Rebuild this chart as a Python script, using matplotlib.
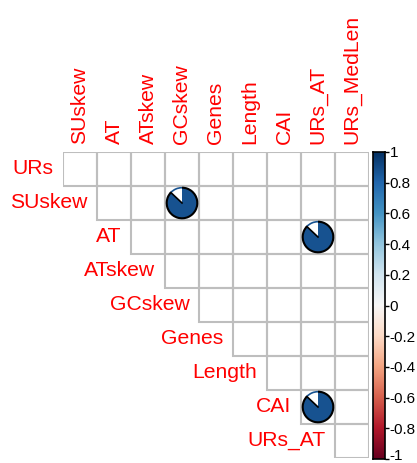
import numpy as np
import matplotlib
matplotlib.use("Agg")
import matplotlib.pyplot as plt
import matplotlib.transforms as mtransforms
from matplotlib.patches import Rectangle, Wedge, Arc

plt.rcParams['font.family'] = ['Liberation Sans', 'DejaVu Sans']

# rows and columns of the (upper-triangle) correlation plot
row_labels = ["URs", "SUskew", "AT", "ATskew", "GCskew", "Genes", "Length", "CAI", "URs_AT"]
col_labels = ["SUskew", "AT", "ATskew", "GCskew", "Genes", "Length", "CAI", "URs_AT", "URs_MedLen"]

# only the significant correlations are drawn (row, column, r)
pie_rows = ["SUskew", "AT", "CAI"]
pie_cols = ["GCskew", "URs_AT", "URs_AT"]
pie_vals = [0.87, 0.87, 0.87]

cbar_ticks = [-1, -0.8, -0.6, -0.4, -0.2, 0, 0.2, 0.4, 0.6, 0.8, 1]

W, H = 417, 463
fig = plt.figure(figsize=(W / 100, H / 100), dpi=100)
ax = fig.add_axes([63 / W, 5 / H, 306 / W, 306 / H])
n = len(col_labels)
ax.set_xlim(0, n)
ax.set_ylim(0, n)
ax.axis('off')

cmap = plt.get_cmap('RdBu')
grid_col = '#BEBEBE'

# cells
for i in range(len(row_labels)):
    y = n - i - 1
    for j in range(i, n):
        ax.add_patch(Rectangle((j, y), 1, 1, fill=False, edgecolor=grid_col,
                               lw=1.5, zorder=1))
    ax.annotate(row_labels[i], xy=(i, y + 0.5), xytext=(-7, 0),
                textcoords='offset points', ha='right', va='center',
                color='red', fontsize=15.2)

for j, lab in enumerate(col_labels):
    ax.annotate(lab, xy=(j + 0.5, n), xytext=(0, 5.5),
                textcoords='offset points', ha='center', va='bottom',
                rotation=90, color='red', fontsize=15.2, annotation_clip=False)

# pies
r = 0.45
for rl, cl, v in zip(pie_rows, pie_cols, pie_vals):
    i = row_labels.index(rl)
    j = col_labels.index(cl)
    cx, cy = j + 0.5, n - i - 0.5
    color = cmap((v + 1) / 2)
    start = 90 - 360 * v
    ax.add_patch(Wedge((cx, cy), r, start, 90, facecolor=color,
                       edgecolor='none', zorder=2))
    ax.add_patch(Arc((cx, cy), 2 * r, 2 * r, theta1=90, theta2=start + 360,
                     color=color, lw=1.2, zorder=3))
    ax.add_patch(Arc((cx, cy), 2 * r, 2 * r, theta1=start, theta2=90,
                     color='black', lw=1.5, zorder=3))
    a = np.deg2rad(start)
    ax.plot([cx, cx + r * np.cos(a)], [cy, cy + r * np.sin(a)],
            color='black', lw=1.2, zorder=4)

# colour legend
cax = fig.add_axes([373 / W, 4 / H, 12 / W, 307 / H])
grad = np.linspace(-1, 1, 256).reshape(-1, 1)
cax.imshow(grad, cmap=cmap, vmin=-1, vmax=1, aspect='auto',
           origin='lower', extent=(0, 1, -1, 1))
cax.set_xlim(0, 1)
cax.set_ylim(-1, 1)
cax.set_xticks([])
cax.yaxis.tick_right()
cax.set_yticks(cbar_ticks)
cax.set_yticklabels(['%g' % t for t in cbar_ticks])
cax.tick_params(axis='y', direction='out', length=3, width=1, pad=0.5,
                labelsize=11)
for s in cax.spines.values():
    s.set_linewidth(1.2)

# nudge the bottom label up so it stays inside the figure
lab = cax.get_yticklabels()[0]
lab.set_transform(lab.get_transform() +
                  mtransforms.ScaledTranslation(0, 3 / 72, fig.dpi_scale_trans))

fig.savefig('out.png', dpi=100)
